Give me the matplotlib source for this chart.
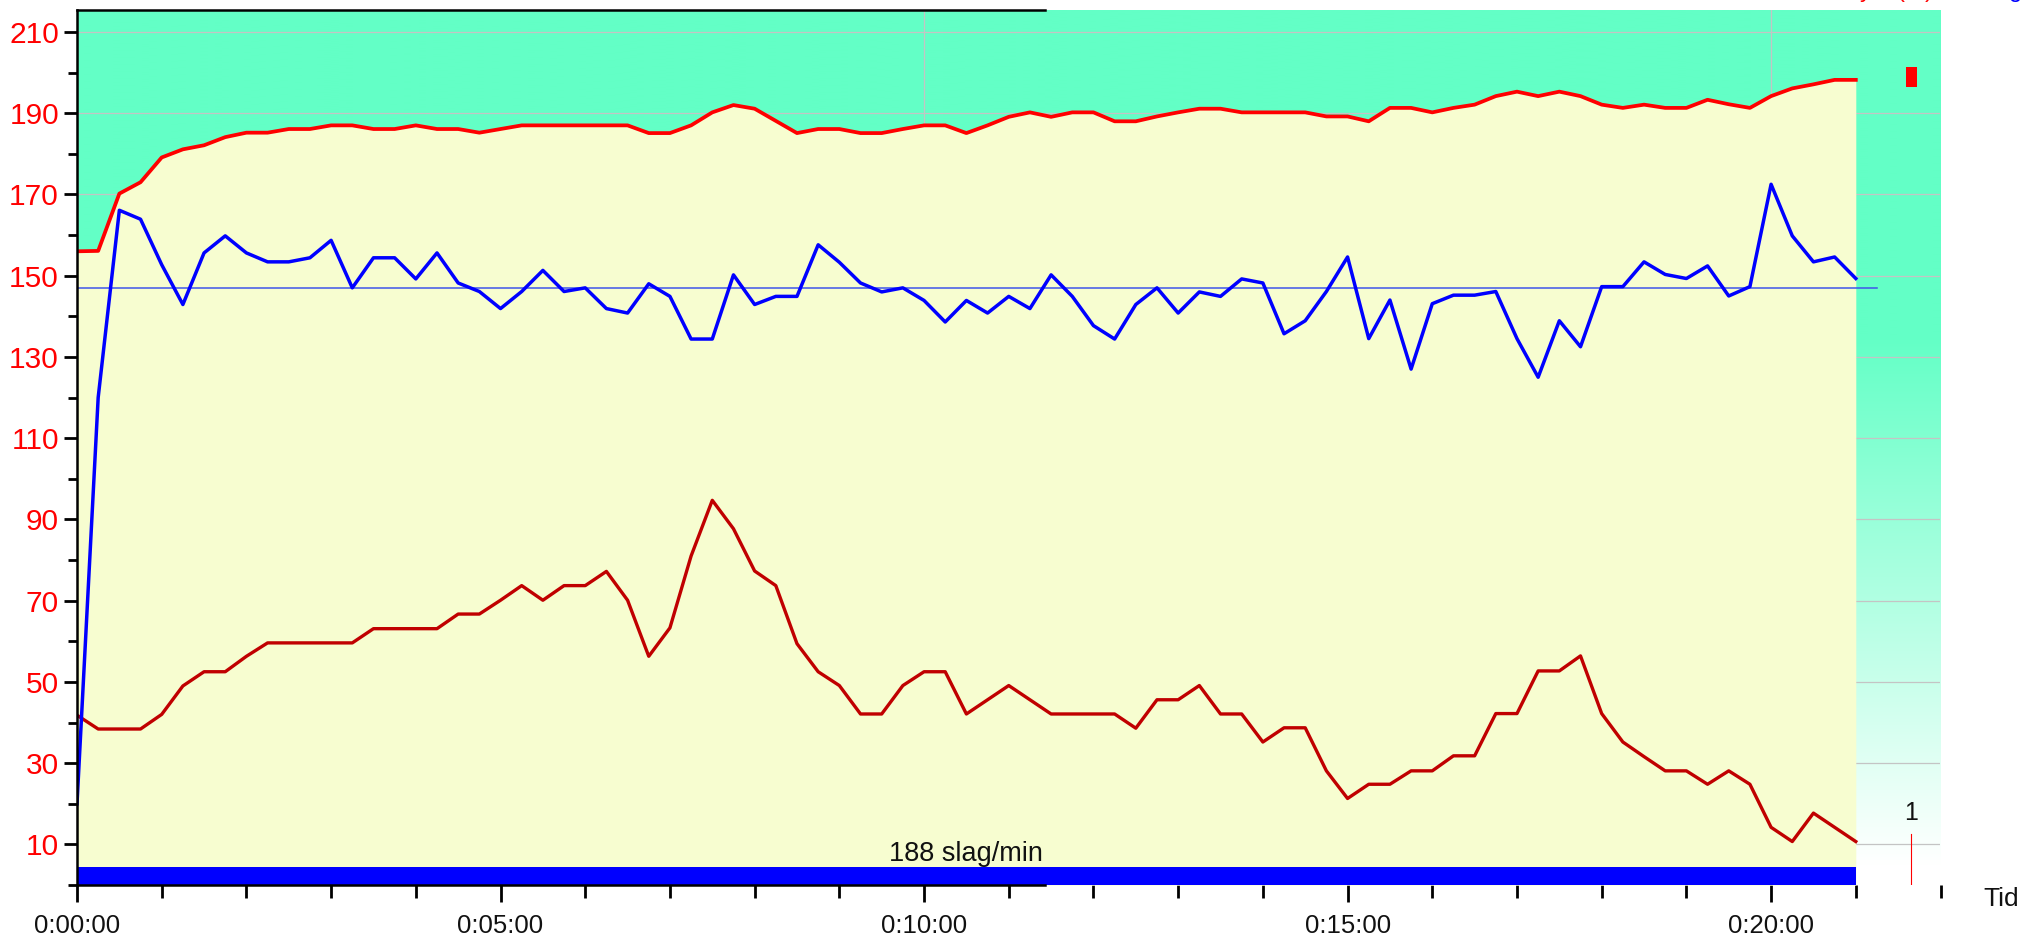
import numpy as np
import matplotlib
matplotlib.use("Agg")
import matplotlib.pyplot as plt
from matplotlib.patches import Rectangle
from matplotlib.ticker import FixedLocator, FuncFormatter

plt.rcParams['font.family'] = ['Liberation Sans', 'DejaVu Sans']

# ---- data (time in minutes, samples every 15 s) ----
time_min = np.arange(85) * 0.25

hr_upper = [156.0, 156.1, 170.2, 173.0, 179.1, 181.1, 182.1, 184.1, 185.2, 185.2,
            186.1, 186.1, 187.0, 187.0, 186.1, 186.1, 187.0, 186.1, 186.1, 185.2,
            186.1, 187.0, 187.0, 187.0, 187.0, 187.0, 187.0, 185.1, 185.1, 187.0,
            190.2, 192.0, 191.1, 188.1, 185.1, 186.1, 186.1, 185.1, 185.1, 186.1,
            187.0, 187.0, 185.1, 187.0, 189.1, 190.2, 189.1, 190.2, 190.2, 188.0,
            188.0, 189.2, 190.2, 191.1, 191.1, 190.2, 190.2, 190.2, 190.2, 189.2,
            189.2, 188.0, 191.3, 191.3, 190.2, 191.3, 192.1, 194.2, 195.3, 194.2,
            195.3, 194.2, 192.1, 191.3, 192.1, 191.3, 191.3, 193.3, 192.2, 191.3,
            194.2, 196.1, 197.1, 198.2, 198.2]

hr_blue = [20.0, 120.0, 166.1, 163.9, 152.7, 142.9, 155.6, 159.8, 155.6, 153.4,
           153.4, 154.4, 158.7, 147.0, 154.4, 154.4, 149.2, 155.6, 148.2, 146.1,
           141.9, 146.1, 151.3, 146.1, 147.0, 141.9, 140.8, 148.0, 144.9, 134.4,
           134.4, 150.2, 142.9, 144.9, 144.9, 157.6, 153.3, 148.2, 146.0, 147.0,
           143.9, 138.6, 143.9, 140.8, 144.9, 141.9, 150.2, 144.9, 137.7, 134.4,
           142.9, 147.0, 140.8, 146.0, 144.9, 149.2, 148.2, 135.7, 138.9, 146.1,
           154.6, 134.5, 144.0, 127.0, 143.1, 145.2, 145.2, 146.1, 134.5, 125.0,
           138.9, 132.5, 147.3, 147.3, 153.4, 150.3, 149.3, 152.4, 145.0, 147.3,
           172.5, 159.8, 153.4, 154.6, 149.3]

lower_red = [41.8, 38.4, 38.4, 38.4, 42.0, 49.0, 52.5, 52.5, 56.3, 59.6,
             59.6, 59.6, 59.6, 59.6, 63.1, 63.1, 63.1, 63.1, 66.7, 66.7,
             70.1, 73.7, 70.1, 73.7, 73.7, 77.2, 70.1, 56.3, 63.3, 81.0,
             94.7, 87.7, 77.3, 73.7, 59.4, 52.5, 49.1, 42.1, 42.1, 49.1,
             52.5, 52.5, 42.1, 45.6, 49.1, 45.6, 42.1, 42.1, 42.1, 42.1,
             38.6, 45.6, 45.6, 49.1, 42.1, 42.1, 35.2, 38.7, 38.7, 28.1,
             21.3, 24.8, 24.8, 28.1, 28.1, 31.8, 31.8, 42.2, 42.2, 52.7,
             52.7, 56.4, 42.2, 35.2, 31.6, 28.1, 28.1, 24.8, 28.1, 24.8,
             14.2, 10.7, 17.7, 14.2, 10.7]

avg_hr = 147.0
avg_label = "188 slag/min"
y_major = [10, 30, 50, 70, 90, 110, 130, 150, 170, 190, 210]
y_minor = [0, 20, 40, 60, 80, 100, 120, 140, 160, 180, 200]
x_major = [0, 5, 10, 15, 20]
x_minor = list(range(23))

# ---- style ----
W, H = 2024, 936
YTOP = 215.4
XMAX = 22.0
GREEN = np.array([99, 255, 198]) / 255.0
YELLOW = '#F7FDD0'

fig = plt.figure(figsize=(W / 100, H / 100), dpi=100)
ax = fig.add_axes([77 / W, 1 - 885 / H, (1940.5 - 77) / W, 875 / H])
ax.set_xlim(0, XMAX)
ax.set_ylim(0, YTOP)

# background gradient (mint green -> white towards bottom)
vals = np.linspace(0, YTOP, 500)
frac = np.clip((135 - vals) / 130.0, 0, 1)
cols = GREEN[None, :] + (1 - GREEN[None, :]) * frac[:, None]
ax.imshow(cols[:, None, :], extent=[0, XMAX, 0, YTOP], origin='lower',
          aspect='auto', zorder=0, interpolation='bilinear')

# grid
for yv in y_major:
    ax.axhline(yv, color='#C4C4C4', lw=0.9, zorder=1)
for xv in [10, 20]:
    ax.axvline(xv, color='#C4C4C4', lw=0.9, zorder=1)

# yellow area below upper curve
ax.fill_between(time_min, 0, hr_upper, color=YELLOW, lw=0, zorder=2)

# blue bar at the bottom
ax.add_patch(Rectangle((0, 0), time_min[-1], 4.4, color='#0000FF', lw=0, zorder=3))
ax.text(time_min[-1] / 2, 5.8, avg_label, ha='center', va='baseline',
        fontsize=19.5, color='#111111', zorder=7)

# average line
ax.plot([0, 21.25], [avg_hr, avg_hr], color='#3F55EA', lw=1.1, zorder=4)

# series
ax.plot(time_min, lower_red, color='#C00000', lw=2.4, zorder=5)
ax.plot(time_min, hr_blue, color='#0000FF', lw=2.5, zorder=5)
ax.plot(time_min, hr_upper, color='#FF0000', lw=2.7, zorder=6)

# red marker at top right and the small marker at bottom right
ax.add_patch(Rectangle((21.59, 196.5), 0.13, 4.9, color='#FF0000', lw=0, zorder=6))
ax.plot([21.65, 21.65], [0, 12.6], color='#FF0000', lw=0.8, zorder=6)
ax.text(21.65, 16.0, "1", ha='center', va='baseline', fontsize=18, color='#111111')

# spines
for s in ['top', 'right', 'bottom']:
    ax.spines[s].set_visible(False)
ax.spines['left'].set_linewidth(1.8)
ax.spines['left'].set_zorder(8)
ax.plot([0, 11.43], [YTOP, YTOP], color='k', lw=1.8, clip_on=False, zorder=8)
ax.plot([0, 11.43], [0, 0], color='k', lw=1.8, clip_on=False, zorder=8)

# ticks
ax.yaxis.set_major_locator(FixedLocator(y_major))
ax.yaxis.set_minor_locator(FixedLocator(y_minor))
ax.xaxis.set_major_locator(FixedLocator(x_major))
ax.xaxis.set_minor_locator(FixedLocator(x_minor))
ax.xaxis.set_major_formatter(FuncFormatter(lambda v, p: "0:%02d:00" % int(round(v))))
ax.tick_params(axis='y', which='major', length=9.5, width=2.0, color='k',
               labelcolor='#FF0000', labelsize=21.5, pad=3.5)
ax.tick_params(axis='y', which='minor', length=6.5, width=2.0, color='k')
ax.tick_params(axis='x', which='major', length=12, width=2.0, color='k',
               labelcolor='#111111', labelsize=18.5, pad=9)
ax.tick_params(axis='x', which='minor', length=9.5, width=2.0, color='k')

fig.text(2001 / W, 1 - 899 / H, "Tid", ha='center', va='center', fontsize=19, color='#111111')

# cut-off legend fragments at the very top right
for xp, ch, c in [(1866, 'y', '#FF0000'), (1901, '(', '#FF0000'),
                  (1929, ')', '#FF0000'), (2016, 'g', '#0000FF')]:
    fig.text(xp / W, 1 + 3 / H, ch, ha='center', va='baseline', fontsize=17, color=c)

fig.savefig('out.png', dpi=100)
